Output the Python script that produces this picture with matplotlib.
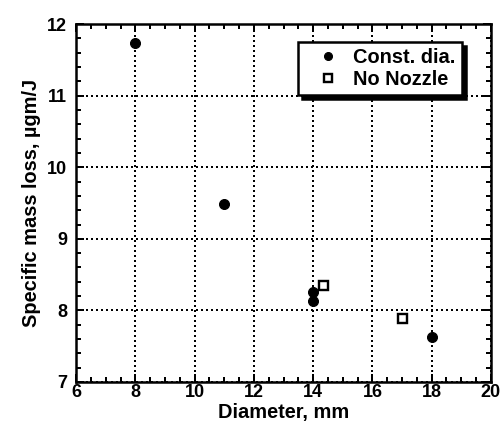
import matplotlib.pyplot as plt
from matplotlib.ticker import MultipleLocator

plt.rcParams['font.family'] = ['Liberation Sans', 'DejaVu Sans']
plt.rcParams['font.weight'] = 'bold'

# constant diameter runs
const_dia = [8.0, 11.0, 14.0, 14.0, 18.0]
const_loss = [11.74, 9.49, 8.26, 8.13, 7.63]

# runs without nozzle
nozzle_dia = [14.32, 17.0]
nozzle_loss = [8.35, 7.89]

fig = plt.figure(figsize=(7, 6), dpi=72)
ax = fig.add_axes([0.151, 0.116, 0.823, 0.828])

ax.plot(const_dia, const_loss, 'o', color='black', markersize=10, linestyle='none',
        label='Const. dia.', zorder=3)
ax.plot(nozzle_dia, nozzle_loss, 's', markerfacecolor='white', markeredgecolor='black',
        markeredgewidth=2.4, markersize=9, linestyle='none', label='No Nozzle', zorder=3)

ax.set_xlim(6, 20)
ax.set_ylim(7, 12)
ax.xaxis.set_major_locator(MultipleLocator(2))
ax.xaxis.set_minor_locator(MultipleLocator(0.5))
ax.yaxis.set_major_locator(MultipleLocator(1))
ax.yaxis.set_minor_locator(MultipleLocator(0.2))

ax.grid(True, which='major', color='black', linestyle=(0, (1, 1.5)), linewidth=2)
ax.tick_params(which='both', direction='in', top=True, right=True, width=2,
               labelsize=18)
ax.tick_params(axis='x', pad=2)
ax.tick_params(axis='y', pad=9)
ax.tick_params(which='major', length=8)
ax.tick_params(which='minor', length=5)
for s in ax.spines.values():
    s.set_linewidth(2.5)

ax.set_xlabel('Diameter, mm', fontsize=20, fontweight='bold', labelpad=2)
ax.set_ylabel('Specific mass loss, \u00b5gm/J', fontsize=20, fontweight='bold', labelpad=6)

leg = ax.legend(loc='upper right', bbox_to_anchor=(0.930, 0.950), fancybox=False,
                shadow={'color': 'black', 'alpha': 1, 'ox': 4, 'oy': -4}, framealpha=1,
                edgecolor='black', fontsize=20, handletextpad=0.05,
                borderpad=0.3, labelspacing=0.15, handlelength=2.4,
                borderaxespad=0, markerscale=0.8)
leg.get_frame().set_linewidth(2.5)
leg.set_zorder(5)

fig.savefig('out.png', dpi=72)
